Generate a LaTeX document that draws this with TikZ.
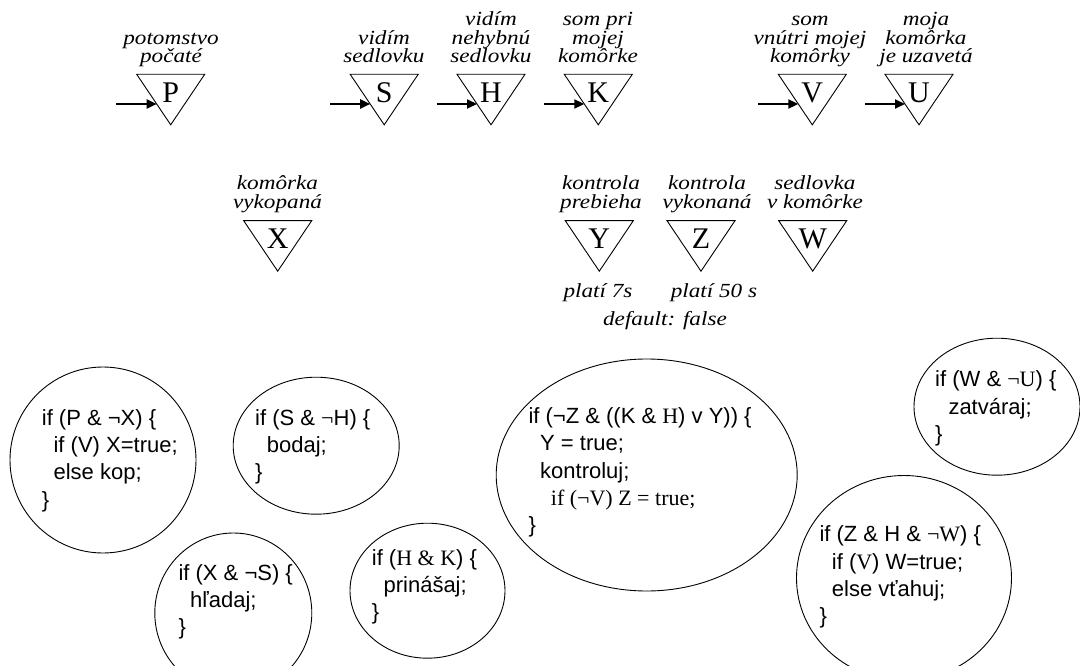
\documentclass[tikz,border=0pt]{standalone}
\usepackage{fontspec}
\usetikzlibrary{arrows.meta,shapes.geometric}
\newfontfamily\lblfont[FakeStretch=1.16]{Liberation Serif}
\newfontfamily\sansfam{Liberation Sans}
\newfontfamily\seriffam{Liberation Serif}
\newcommand\srf[1]{{\seriffam #1}}
\newcommand\ind[1]{\hspace*{#1pt}}

% multi-line nodes are placed by the baseline of their last line
\tikzset{
  lbl/.style={font=\lblfont\itshape\fontsize{20}{18.5}\selectfont, align=center, inner sep=0pt, anchor=base},
  letter/.style={font=\seriffam\fontsize{30}{30}\selectfont, inner sep=0pt, anchor=base},
  tri/.style={draw, line width=0.9pt, line join=miter},
  feed/.style={line width=2pt, -{Triangle[length=10pt,width=9pt]}, shorten >=14pt},
  cond/.style={draw, ellipse, line width=0.9pt, inner sep=0pt},
  code/.style={font=\sansfam\fontsize{22}{27.4}\selectfont, align=left, inner sep=0pt, anchor=base west},
}

% a sensor: downward triangle whose top edge is centred on (#2,#3)
\newcommand\mksensor[4]{%
  \coordinate (#1) at (#2,#3);
  \draw[tri] ([xshift=-34pt]#1) -- ([xshift=34pt]#1) -- ([yshift=-50.5pt]#1) -- cycle;
  \node[letter] (#1-sym) at ([yshift=-28pt]#1) {#4};
}

\begin{document}
\begin{tikzpicture}[x=1pt,y=-1pt]
\useasboundingbox (0,0) rectangle (1080,666);
\fill[white] (0,0) rectangle (1080,666);

% ---- sensors with inputs ----
\mksensor{P}{170.7}{74.3}{P}
\mksensor{S}{384.2}{74.3}{S}
\mksensor{H}{491}{74.3}{H}
\mksensor{K}{598.3}{74.3}{K}
\mksensor{V}{812.3}{74.3}{V}
\mksensor{U}{919}{74.3}{U}

\coordinate (inP) at (116,104);
\coordinate (inS) at (330,104);
\coordinate (inH) at (436.7,104);
\coordinate (inK) at (544,104);
\coordinate (inV) at (758.3,104);
\coordinate (inU) at (865,104);
\foreach \s in {P,S,H,K,V,U} \draw[feed] (in\s) -- (in\s -| \s);

\node[lbl] (P-txt) at (171,63) {potomstvo\\počaté};
\node[lbl] (S-txt) at (384,63) {vidím\\sedlovku};
\node[lbl] (H-txt) at (491,63) {vidím\\nehybnú\\sedlovku};
\node[lbl] (K-txt) at (598,63) {som pri\\mojej\\komôrke};
\node[lbl] (V-txt) at (810,63) {som\\vnútri mojej\\komôrky};
\node[lbl] (U-txt) at (926,63) {moja\\komôrka\\je uzavetá};

% ---- internal state ----
\mksensor{X}{277.7}{220.7}{X}
\mksensor{Y}{599.3}{220.7}{Y}
\mksensor{Z}{701}{220.7}{Z}
\mksensor{W}{812.7}{220.7}{W}

\node[lbl] (X-txt) at (277.5,208.3) {komôrka\\vykopaná};
\node[lbl] (Y-txt) at (601,208.3) {kontrola\\prebieha};
\node[lbl] (Z-txt) at (707,208.3) {kontrola\\vykonaná};
\node[lbl] (W-txt) at (815,208.3) {sedlovka\\v komôrke};

\node[lbl] (Y-note) at (598,298) {platí 7s};
\node[lbl] (Z-note) at (714,298) {platí 50 s};
\node[lbl] (def-note) at (665,325) {default: false};

% ---- behaviours ----
\node[cond, minimum width=186pt, minimum height=186pt] (b1) at (103,460) {};
\node[code] (b1-txt) at (41.7,507.2)
  {if (P \& ¬X) \{\\\ind{11.7}if (V) X=true;\\\ind{11.7}else kop;\\\}};

\node[cond, minimum width=166pt, minimum height=137pt] (b2) at (316.2,445.7) {};
\node[code] (b2-txt) at (255,479.8)
  {if (S \& \srf{¬}H) \{\\\ind{11.7}bodaj;\\\}};

\node[cond, minimum width=157pt, minimum height=160pt] (b3) at (233.3,613) {};
\node[code] (b3-txt) at (178.3,634.8)
  {if (X \& ¬S) \{\\\ind{11.7}hľadaj;\\\}};

\node[cond, minimum width=155pt, minimum height=135pt] (b4) at (427.5,590.7) {};
\node[code] (b4-txt) at (371.7,619.8)
  {if (\srf{H \& K}) \{\\\ind{11.7}prinášaj;\\\}};

\node[cond, minimum width=301pt, minimum height=232pt] (b5) at (646.7,475) {};
\node[code] (b5-txt) at (528.3,532.9)
  {if (¬Z \& ((K \& \srf{H}) v Y)) \{\\\ind{11.7}Y = true;\\\ind{11.7}kontroluj;\\\ind{22.4}\srf{if (¬V) Z = true;}\\\}};

\node[cond, minimum width=166pt, minimum height=137pt] (b6) at (997,406.7) {};
\node[code] (b6-txt) at (935,441.5)
  {if (W \& \srf{¬U}) \{\\\ind{13.3}zatváraj;\\\}};

\node[cond, minimum width=215pt, minimum height=205pt] (b7) at (904,578) {};
\node[code] (b7-txt) at (819.3,623.9)
  {if (Z \& H \& \srf{¬W}) \{\\\ind{12.4}if (\srf{V}) W=true;\\\ind{12.4}else vťahuj;\\\}};
\end{tikzpicture}
\end{document}
